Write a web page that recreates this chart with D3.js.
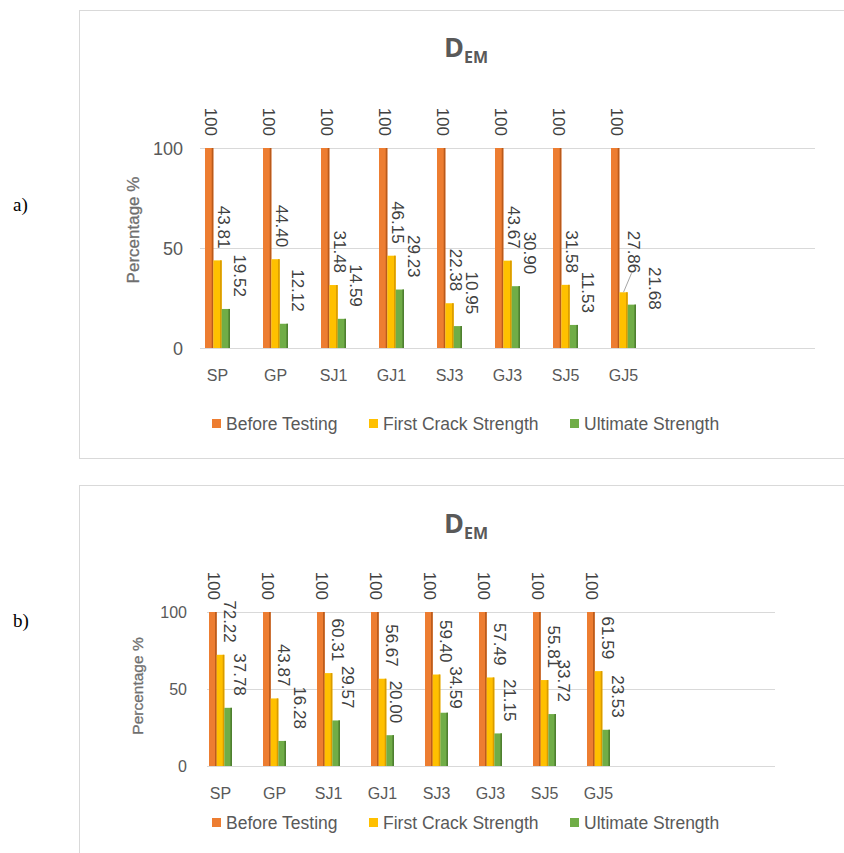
<!DOCTYPE html>
<html>
<head>
<meta charset="utf-8">
<script src="https://cdn.jsdelivr.net/npm/d3@7"></script>
<style>
  html, body { margin: 0; padding: 0; background: #ffffff; }
  svg { display: block; }
</style>
</head>
<body>
<svg id="chart" width="844" height="853"></svg>
<script>
// ---------------- DATA ----------------
const categories = ["SP", "GP", "SJ1", "GJ1", "SJ3", "GJ3", "SJ5", "GJ5"];
const seriesNames = ["Before Testing", "First Crack Strength", "Ultimate Strength"];
const yTickValues = [0, 50, 100];

// panel a)
const beforeTestingA = [100, 100, 100, 100, 100, 100, 100, 100];
const firstCrackA    = [43.81, 44.40, 31.48, 46.15, 22.38, 43.67, 31.58, 27.86];
const ultimateA      = [19.52, 12.12, 14.59, 29.23, 10.95, 30.90, 11.53, 21.68];

// panel b)
const beforeTestingB = [100, 100, 100, 100, 100, 100, 100, 100];
const firstCrackB    = [72.22, 43.87, 60.31, 56.67, 59.40, 57.49, 55.81, 61.59];
const ultimateB      = [37.78, 16.28, 29.57, 20.00, 34.59, 21.15, 33.72, 23.53];

// ---------------- STYLE ----------------
const colors = ["#ED7D31", "#FFC000", "#70AD47"];
const edgeColors = ["#B95A1B", "#D99B00", "#4E8030"];
const textGray = "#595959";
const labelGray = "#404040";
const gridGray = "#D9D9D9";
const sans = "'Liberation Sans', Arial, sans-serif";

const svg = d3.select("#chart");

const panels = [
  {
    letter: "a)", letterY: 211,
    series: [beforeTestingA, firstCrackA, ultimateA],
    boxTop: 10, boxBottom: 458,
    xStart: 205, step: 58, groupW: 25,
    yRange: [348, 148], gridX: [200, 815],
    tickX: 183, tickSize: 18,
    yTitle: { x: 135, y: 230, size: 17 },
    titleY: 57,
    catY: 381, legendY: 424,
    labelDx: [0, 5, 13],
    nudges: { "GJ5|1": [4, -7], "GJ5|2": [9, 17] },
    leaders: ["GJ5|1"]
  },
  {
    letter: "b)", letterY: 627,
    series: [beforeTestingB, firstCrackB, ultimateB],
    boxTop: 485, boxBottom: 900,
    xStart: 209, step: 54, groupW: 23,
    yRange: [766, 612], gridX: [207, 775],
    tickX: 187, tickSize: 16,
    yTitle: { x: 139, y: 686, size: 15.5 },
    titleY: 533,
    catY: 799, legendY: 823,
    labelDx: [0, 8, 10],
    nudges: { "SJ3|2": [0, 8], "GJ1|2": [-6, 0], "GP|2": [6, 0] },
    leaders: []
  }
];

const fmt = v => (v === 100 ? "100" : d3.format(".2f")(v));

panels.forEach(p => {
  const g = svg.append("g");

  // panel frame
  g.append("rect")
    .attr("x", 79.5).attr("y", p.boxTop + 0.5)
    .attr("width", 800).attr("height", p.boxBottom - p.boxTop)
    .attr("fill", "none").attr("stroke", gridGray).attr("stroke-width", 1);

  // panel letter
  svg.append("text")
    .attr("x", 13).attr("y", p.letterY)
    .attr("font-family", "'Liberation Serif', 'Times New Roman', serif")
    .attr("font-size", 19).attr("fill", "#000")
    .text(p.letter);

  // scales
  const x = d3.scaleBand()
    .domain(categories)
    .range([p.xStart, p.xStart + p.step * categories.length])
    .paddingInner(0).paddingOuter(0);
  const xs = d3.scaleBand()
    .domain(d3.range(seriesNames.length))
    .range([0, p.groupW]);
  const y = d3.scaleLinear().domain([0, 100]).range(p.yRange);

  // gridlines
  g.append("g").selectAll("line")
    .data(yTickValues).join("line")
    .attr("x1", p.gridX[0]).attr("x2", p.gridX[1])
    .attr("y1", d => Math.round(y(d)) + 0.5).attr("y2", d => Math.round(y(d)) + 0.5)
    .attr("stroke", gridGray).attr("stroke-width", 1);

  // y axis tick labels (via d3 axis)
  const yAxis = d3.axisLeft(y).tickValues(yTickValues).tickSize(0).tickPadding(0);
  const ya = g.append("g")
    .attr("transform", `translate(${p.tickX},0)`)
    .call(yAxis);
  ya.select(".domain").remove();
  ya.selectAll("text")
    .attr("font-family", sans).attr("font-size", p.tickSize)
    .attr("fill", textGray).attr("dy", "0.35em");

  // y title
  g.append("text")
    .attr("transform", `translate(${p.yTitle.x},${p.yTitle.y}) rotate(-90)`)
    .attr("text-anchor", "middle").attr("dominant-baseline", "middle")
    .attr("font-family", sans).attr("font-size", p.yTitle.size)
    .attr("font-weight", "normal").attr("fill", "#6F6F6F")
    .attr("stroke", "#6F6F6F").attr("stroke-width", 0.3)
    .text("Percentage %");

  // chart title D_EM
  const t = g.append("text")
    .attr("x", 466).attr("y", p.titleY)
    .attr("text-anchor", "middle")
    .attr("font-family", "'Open Sans', 'Liberation Sans', sans-serif")
    .attr("font-weight", "bold").attr("fill", textGray);
  t.append("tspan").attr("font-size", 27).text("D");
  t.append("tspan").attr("font-size", 16).attr("dy", 6).text("EM");

  // bars
  const rows = [];
  categories.forEach((c, i) => {
    p.series.forEach((arr, s) => rows.push({ cat: c, s, v: arr[i] }));
  });

  const bars = g.append("g").selectAll("g.bar").data(rows).join("g").attr("class", "bar");
  bars.append("rect")
    .attr("x", d => x(d.cat) + xs(d.s))
    .attr("y", d => y(d.v))
    .attr("width", xs.bandwidth())
    .attr("height", d => y(0) - y(d.v))
    .attr("fill", d => colors[d.s]);
  bars.append("rect")
    .attr("x", d => x(d.cat) + xs(d.s) + xs.bandwidth() - 1.6)
    .attr("y", d => y(d.v))
    .attr("width", 1.6)
    .attr("height", d => y(0) - y(d.v))
    .attr("fill", d => edgeColors[d.s]);

  // leader lines
  rows.filter(d => p.leaders.includes(d.cat + "|" + d.s)).forEach(d => {
    const n = p.nudges[d.cat + "|" + d.s] || [0, 0];
    const cx = x(d.cat) + xs(d.s) + xs.bandwidth() / 2;
    g.append("line")
      .attr("x1", cx).attr("y1", y(d.v))
      .attr("x2", cx + p.labelDx[d.s] + n[0] - 1).attr("y2", y(d.v) - 12 + n[1])
      .attr("stroke", "#A6A6A6").attr("stroke-width", 1);
  });

  // data labels (rotated 90°, reading downward, ending just above bar)
  g.append("g").selectAll("text")
    .data(rows).join("text")
    .attr("transform", d => {
      const n = p.nudges[d.cat + "|" + d.s] || [0, 0];
      const cx = x(d.cat) + xs(d.s) + xs.bandwidth() / 2 + p.labelDx[d.s] + n[0];
      const ey = y(d.v) - 12 + n[1];
      return `translate(${cx},${ey}) rotate(90)`;
    })
    .attr("text-anchor", "end")
    .attr("dominant-baseline", "middle")
    .attr("font-family", sans).attr("font-size", 17)
    .attr("fill", labelGray)
    .text(d => fmt(d.v));

  // category labels (via d3 axis)
  const xAxis = d3.axisBottom(x).tickSize(0).tickPadding(0);
  const xa = g.append("g")
    .attr("transform", `translate(0,${p.catY})`)
    .call(xAxis);
  xa.select(".domain").remove();
  xa.selectAll(".tick").attr("transform", d => `translate(${x(d) + p.groupW / 2},0)`);
  xa.selectAll("text")
    .attr("font-family", sans).attr("font-size", 16)
    .attr("fill", textGray).attr("dy", 0).attr("y", 0);

  // legend
  const legendX = [212, 369, 570];
  const lg = g.append("g").selectAll("g").data(seriesNames).join("g")
    .attr("transform", (d, i) => `translate(${legendX[i]},${p.legendY})`);
  lg.append("rect")
    .attr("x", 0).attr("y", -5).attr("width", 9).attr("height", 9)
    .attr("fill", (d, i) => colors[i]);
  lg.append("text")
    .attr("x", 14).attr("y", 0).attr("dy", "0.35em")
    .attr("font-family", sans).attr("font-size", 17.5)
    .attr("fill", textGray)
    .text(d => d);
});
</script>
</body>
</html>
